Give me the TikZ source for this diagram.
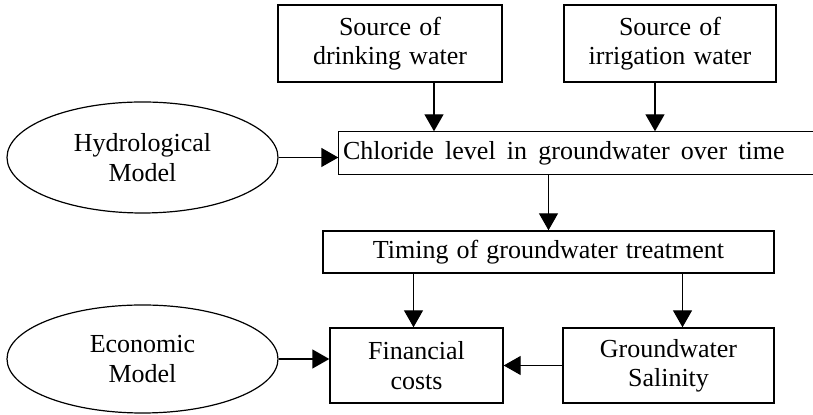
\documentclass[tikz,border=0pt]{standalone}
\usepackage{fontspec}
\setmainfont[WordSpace=1.25]{Liberation Serif}
\usepackage{tikz}
\usetikzlibrary{arrows.meta}
\usetikzlibrary{shapes}
\tikzstyle{blk}=[draw, rectangle, line width=0.7pt, inner sep=2pt, align=center, font=\fontsize{13}{14.7}\selectfont]
\tikzstyle{ell}=[draw, ellipse, line width=0.6pt, inner sep=0pt, align=center, font=\fontsize{13}{14.7}\selectfont]
\tikzstyle{arr}=[-{Triangle[length=8.5pt,width=9.5pt]}, line width=0.7pt]

\begin{document}
\begin{tikzpicture}[x=0.5pt,y=-0.5pt]
        \useasboundingbox (0,0) rectangle (813,415);
        % sources on top
        \node[blk, minimum width=112pt, minimum height=38.5pt] (ndrink) at (390,43.5)
          {Source of\\drinking water};
        \node[blk, minimum width=106pt, minimum height=38.5pt] (nirrig) at (670,43.5)
          {Source of\\irrigation water};
        % hydrological part
        \node[ell, minimum width=135.5pt, minimum height=55.5pt] (nhydro) at (142.5,157.5)
          {Hydrological\\Model};
        % box runs off the right edge: only three sides drawn
        \node[blk, draw=none, text width=256pt, align=left, minimum height=21pt] (nchl) at (599,153)
          {\spaceskip=5.6pt\relax Chloride level in groundwater over time};
        \draw[line width=0.7pt] (nchl.north east) -- (nchl.north west) -- (nchl.south west)
          -- (nchl.south east);
        \node[blk, minimum width=225.5pt, minimum height=21pt] (ntime) at (548.5,252)
          {Timing of groundwater treatment};
        % economic part
        \node[ell, minimum width=135.5pt, minimum height=54pt] (necon) at (142.5,359)
          {Economic\\Model};
        \node[blk, minimum width=86.5pt, minimum height=37.5pt] (nfin) at (416.5,365.5)
          {Financial\\costs};
        \node[blk, minimum width=105.5pt, minimum height=37.5pt] (nsal) at (668.5,365.5)
          {Groundwater\\Salinity};
        % links
        \coordinate (cdrink) at ([xshift=22pt]ndrink.south);
        \coordinate (cirrig) at ([xshift=-7.5pt]nirrig.south);
        \coordinate (cfin) at ([xshift=-1.5pt]nfin.north);
        \coordinate (csal) at ([xshift=7pt]nsal.north);
        \draw[arr] (cdrink) -- (cdrink |- nchl.north);
        \draw[arr] (cirrig) -- (cirrig |- nchl.north);
        \draw[arr] (nhydro.east) -- (nhydro.east -| nchl.west);
        \draw[arr] (ntime.north |- nchl.south) -- (ntime.north);
        \draw[arr] (cfin |- ntime.south) -- (cfin);
        \draw[arr] (csal |- ntime.south) -- (csal);
        \draw[arr] (nsal.west) -- (nfin.east);
        \draw[arr] (necon.east) -- (necon.east -| nfin.west);
\end{tikzpicture}
\end{document}
